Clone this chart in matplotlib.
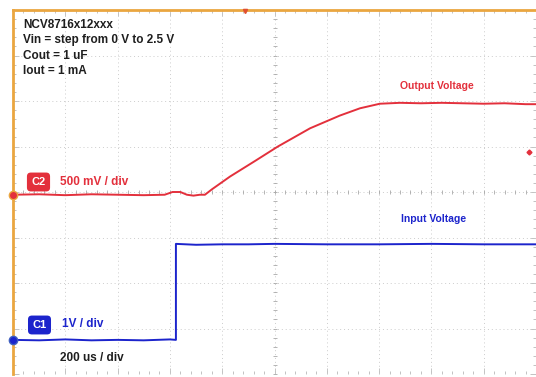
import numpy as np
import matplotlib
matplotlib.use('Agg')
from matplotlib import pyplot as plt

# 200 us/div, 10 div across
t_red = [0, 100, 200, 300, 400, 500, 580, 610, 640, 665, 690, 715, 734,
         761, 830, 925, 1013, 1136, 1250, 1327, 1403, 1480, 1560, 1640,
         1720, 1800, 1880, 1960, 2000]
v_red = [0.0, 0.005, -0.005, 0.005, 0.0, -0.005, 0.0, 0.03, 0.03, 0.0,
         -0.01, 0.0, 0.0, 0.06, 0.2, 0.37, 0.53, 0.73, 0.87, 0.95, 1.0,
         1.01, 1.005, 1.01, 1.005, 1.0, 1.005, 0.995, 0.995]

t_blue = [0, 100, 200, 300, 400, 500, 600, 623, 623, 700, 800, 900, 1000,
          1200, 1400, 1600, 1800, 2000]
v_blue = [0.0, -0.01, 0.01, -0.01, 0.0, -0.01, 0.01, 0.0, 2.11, 2.09,
          2.1, 2.1, 2.11, 2.1, 2.1, 2.11, 2.1, 2.1]

red_scale, red_zero = 0.5, -0.06     # V/div, ground position (div)
blue_scale, blue_zero = 1.0, -3.25
trig_t, trig_v = 887, 0.47

header = ["NCV8716x12xxx", "Vin = step from 0 V to 2.5 V",
          "Cout = 1 uF", "Iout = 1 mA"]

red = '#e3303c'
blue = '#1c24cc'
orange = '#eaa640'
plt.rcParams['font.family'] = ['Liberation Sans', 'DejaVu Sans']

fig = plt.figure(figsize=(5.36, 3.77), dpi=100)
W, H = 536, 377
ax = fig.add_axes([13 / W, 3 / H, 523 / W, 364 / H])
ax.set_xlim(0, 2000)
ax.set_ylim(-4, 4)

# graticule
for x in np.arange(200, 2000, 200):
    ax.axvline(x, color='#cccccc', lw=0.7, ls=(0, (1, 3)))
for y in range(-3, 4):
    ax.axhline(y, color='#cccccc', lw=0.7, ls=(0, (1, 3)))
ax.plot(np.arange(0, 2001, 40), np.zeros(51), ls='none', marker='|',
        ms=3, mew=0.6, color='#a8a8a8')
ax.plot(np.full(41, 1000), np.arange(-4, 4.01, 0.2), ls='none', marker='_',
        ms=3, mew=0.6, color='#a8a8a8')
ax.set_xticks(np.arange(0, 2001, 200))
ax.set_xticks(np.arange(0, 2001, 40), minor=True)
ax.set_yticks(np.arange(-4, 5))
ax.set_yticks(np.arange(-4, 4.01, 0.2), minor=True)
ax.tick_params(which='both', direction='in', top=True, right=True,
               labelbottom=False, labelleft=False, color='#b8b8b8', width=0.6)
ax.tick_params(which='major', length=4)
ax.tick_params(which='minor', length=2.5)
for s in ['right', 'bottom']:
    ax.spines[s].set_visible(False)
for s in ['left', 'top']:
    ax.spines[s].set_color(orange)
    ax.spines[s].set_linewidth(2)

# traces
ax.plot(t_red, np.array(v_red) / red_scale + red_zero, color=red, lw=1.4)
ax.plot(t_blue, np.array(v_blue) / blue_scale + blue_zero, color=blue, lw=1.4)

# ground / trigger markers
ax.plot(0, red_zero, 'o', ms=6, mfc=red, mec=orange, mew=1, clip_on=False, zorder=5)
ax.plot(0, blue_zero, 'o', ms=6, mfc=blue, mec='#4060c0', mew=1, clip_on=False, zorder=5)
ax.plot(trig_t, 3.97, 'v', ms=3, color='#e05030', clip_on=False, zorder=5)
ax.plot(1975, trig_v / red_scale + red_zero, 'D', ms=2.5, color=red, clip_on=False)

# texts
for i, line in enumerate(header):
    fig.text(23 / W, 1 - (25 + 15.5 * i) / H, line, fontsize=8.5, fontweight='bold',
             color='#1e1e1e', va='center')
fig.text(38.5 / W, 1 - 182 / H, 'C2', fontsize=8, fontweight='bold', color='white',
         ha='center', va='center',
         bbox=dict(boxstyle='round,pad=0.4,rounding_size=0.35', fc=red, ec='none'))
fig.text(60 / W, 1 - 182 / H, '500 mV / div', fontsize=8.5, fontweight='bold',
         color=red, va='center')
fig.text(39.5 / W, 1 - 325 / H, 'C1', fontsize=8, fontweight='bold', color='white',
         ha='center', va='center',
         bbox=dict(boxstyle='round,pad=0.4,rounding_size=0.35', fc=blue, ec='none'))
fig.text(62 / W, 1 - 324 / H, '1V / div', fontsize=8.5, fontweight='bold',
         color=blue, va='center')
fig.text(60 / W, 1 - 358 / H, '200 us / div', fontsize=8.5, fontweight='bold',
         color='#1e1e1e', va='center')
fig.text(400 / W, 1 - 86 / H, 'Output Voltage', fontsize=7.5, fontweight='bold',
         color=red, va='center')
fig.text(401 / W, 1 - 219 / H, 'Input Voltage', fontsize=7.5, fontweight='bold',
         color=blue, va='center')

fig.savefig('out.png', dpi=100)
